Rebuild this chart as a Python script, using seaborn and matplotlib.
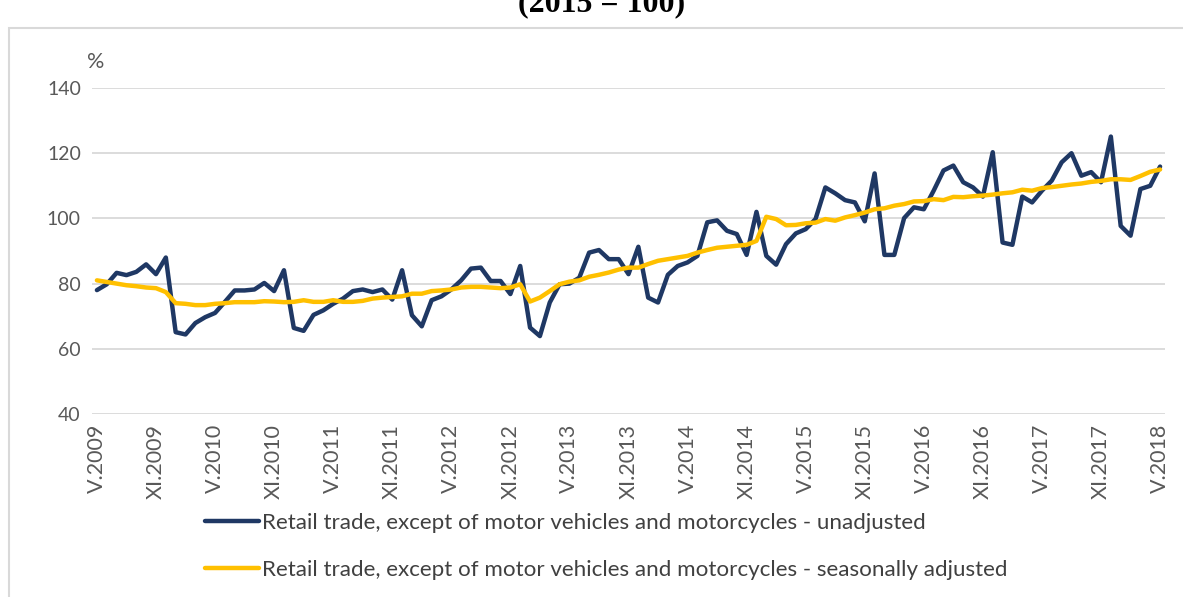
import numpy as np
import pandas as pd
import matplotlib
matplotlib.use('Agg')
import matplotlib.pyplot as plt
import seaborn as sns
from matplotlib.patches import Rectangle

# Monthly index values, V.2009 - V.2018 (2015 = 100)
unadjusted = [
    78, 79.8, 83.3, 82.6, 83.6, 85.9, 82.9, 88,
    65.1, 64.4, 67.9, 69.7, 71, 74.4, 77.9, 77.9, 78.2, 80.2, 77.7, 84.1,
    66.4, 65.5, 70.4, 71.8, 73.8, 75.4, 77.7, 78.2, 77.4, 78.2, 75.1, 84.1,
    70.3, 66.9, 74.9, 76.1, 78.2, 81, 84.6, 84.9, 80.8, 80.8, 76.8, 85.4,
    66.5, 63.9, 74.2, 79.8, 80, 81.8, 89.5, 90.3, 87.5, 87.5, 82.9, 91.3,
    75.7, 74.2, 82.7, 85.4, 86.5, 88.5, 98.8, 99.4, 96.2, 95.2, 88.8, 102,
    88.5, 85.8, 92.1, 95.4, 96.7, 99.8, 109.5, 107.7, 105.6, 104.9, 99.1, 113.8,
    88.8, 88.8, 100.1, 103.4, 102.8, 108.5, 114.7, 116.2, 111.1, 109.5, 106.7, 120.3,
    92.6, 91.9, 106.7, 104.9, 108.5, 111.6, 117.2, 120, 113.1, 114.2, 111.1, 125.1,
    97.7, 94.7, 109, 110, 115.9,
]
adjusted = [
    81, 80.5, 80, 79.5, 79.2, 78.8, 78.6, 77.4,
    74, 73.8, 73.4, 73.4, 73.8, 74, 74.3, 74.3, 74.3, 74.6, 74.5, 74.3,
    74.4, 74.9, 74.4, 74.4, 74.9, 74.4, 74.4, 74.7, 75.4, 75.7, 75.9, 76.1,
    76.9, 76.9, 77.7, 77.9, 78.2, 78.8, 79, 79, 78.8, 78.6, 78.8, 79.8,
    74.5, 75.7, 77.7, 79.8, 80.6, 81, 82.1, 82.7, 83.4, 84.3, 84.9, 84.9,
    86, 87, 87.5, 88, 88.5, 89.5, 90.3, 91, 91.3, 91.6, 91.9, 93.1,
    100.5, 99.8, 97.9, 98, 98.5, 98.7, 99.8, 99.3, 100.3, 101, 101.8, 102.8,
    103.1, 103.9, 104.4, 105.2, 105.3, 105.9, 105.6, 106.6, 106.5, 106.8, 107, 107.3,
    107.7, 108, 108.8, 108.5, 109.3, 109.6, 110, 110.4, 110.7, 111.2, 111.5, 112,
    112, 111.8, 113, 114.3, 115,
]
tick_labels = ['V.2009', 'XI.2009', 'V.2010', 'XI.2010', 'V.2011', 'XI.2011',
               'V.2012', 'XI.2012', 'V.2013', 'XI.2013', 'V.2014', 'XI.2014',
               'V.2015', 'XI.2015', 'V.2016', 'XI.2016', 'V.2017', 'XI.2017',
               'V.2018']
series_names = [
    'Retail trade, except of motor vehicles and motorcycles - unadjusted',
    'Retail trade, except of motor vehicles and motorcycles - seasonally adjusted',
]
colors = ['#1f3864', '#ffc000']

month = np.arange(len(unadjusted))
df = pd.DataFrame({'month': np.concatenate([month, month]),
                   'value': unadjusted + adjusted,
                   'series': [series_names[0]] * len(month) + [series_names[1]] * len(month)})

sns.set_style('white')
plt.rcParams['font.family'] = ['Lato', 'DejaVu Sans']
gray = '#595959'

fig = plt.figure(figsize=(11.83, 5.97), dpi=100)
W, H = 1183, 597
ax = fig.add_axes([92 / W, 1 - 414 / H, (1165 - 92) / W, (414 - 88) / H])

sns.lineplot(data=df, x='month', y='value', hue='series', palette=colors,
             linewidth=3.2, ax=ax, legend=False)

ax.set_xlim(-0.5, len(month) - 0.5)
ax.set_ylim(40, 140)
ax.set_yticks([40, 60, 80, 100, 120, 140])
ax.set_xticks(month[::6])
ax.set_xticklabels(tick_labels, rotation=90)
ax.grid(axis='y', color='#d9d9d9', linewidth=1.3)
ax.set_axisbelow(True)
for s in ax.spines.values():
    s.set_visible(False)
ax.tick_params(axis='both', length=0, labelcolor=gray)
ax.tick_params(axis='x', pad=7, labelsize=15.5)
ax.tick_params(axis='y', pad=8, labelsize=14)
ax.set_xlabel('')
ax.set_ylabel('')

fig.text(87 / W, 1 - 62 / H, '%', fontsize=15.5, color=gray, va='center')

# chart border and clipped title
fig.patches.append(Rectangle((9 / W, -0.05), 1.2, 1 - 28 / H + 0.05, transform=fig.transFigure,
                             fill=False, edgecolor='#d9d9d9', linewidth=1.5))
fig.text(602 / W, 1 - 11 / H, '(2015 = 100)', fontsize=23, fontweight='bold',
         family='Liberation Serif', ha='center', va='baseline', color='black')

handles = [plt.Line2D([], [], color=c, linewidth=3.2) for c in colors]
fig.legend(handles, series_names, loc='upper left',
           bbox_to_anchor=(205 / W, 1 - 513 / H), frameon=False,
           fontsize=16.1, labelcolor='#404040', handlelength=2.4, handletextpad=0.15,
           labelspacing=1.22, borderpad=0, borderaxespad=0)

fig.savefig('out.png', dpi=100)
